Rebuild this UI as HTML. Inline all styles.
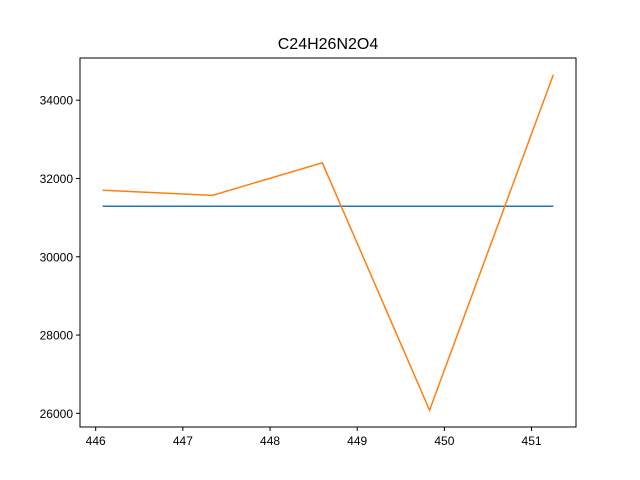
<!DOCTYPE html>
<html><head><meta charset="utf-8"><style>body{margin:0;background:#fff}svg{display:block}</style></head>
<body>
<svg id="chart" width="640" height="480" xmlns="http://www.w3.org/2000/svg" font-family="Liberation Sans, DejaVu Sans, sans-serif">
<rect x="0" y="0" width="640" height="480" fill="#fff"/>
<text x="328" y="49" text-anchor="middle" font-size="16">C24H26N2O4</text>
<g id="plot"></g>
<rect x="80" y="58" width="496" height="369" fill="none" stroke="#000" stroke-width="1"/>
</svg>
<script>
const xs = [446.08, 447.34, 448.60, 449.83, 451.25];
const seriesA = [31290, 31290, 31290, 31290, 31290];
const seriesB = [31700, 31570, 32400, 26080, 34650];
const xTicks = [446, 447, 448, 449, 450, 451];
const yTicks = [26000, 28000, 30000, 32000, 34000];
const X0=445.82, X1=451.51, Y0=25651, Y1=35078;
const L=80,R=576,T=58,B=427;
const sx=v=>L+(v-X0)/(X1-X0)*(R-L);
const sy=v=>B-(v-Y0)/(Y1-Y0)*(B-T);
const ns="http://www.w3.org/2000/svg";
const g=document.getElementById('plot');
function mk(t,a){const e=document.createElementNS(ns,t);for(const k in a)e.setAttribute(k,a[k]);g.appendChild(e);return e;}
xTicks.forEach(v=>{
  const x=sx(v);
  const l=mk('line',{x1:x,x2:x,y1:B,y2:B+4,stroke:'#000'});
  
  
  const t=mk('text',{x:x,y:B+18,'text-anchor':'middle','font-size':'12'});
  t.textContent=v;
  
  
});
yTicks.forEach(v=>{
  const y=sy(v);
  const l=mk('line',{x1:L-4,x2:L,y1:y,y2:y,stroke:'#000'});
  
  
  const t=mk('text',{x:L-7,y:y+4.5,'text-anchor':'end','font-size':'12'});
  t.textContent=v;
  
  
});
function line(vals,color,name){
  const p=mk('polyline',{points:xs.map((x,i)=>sx(x)+','+sy(vals[i])).join(' '),fill:'none',stroke:color,'stroke-width':'1.5'});
  
  
}
line(seriesA,'#1f77b4','series-a-line');
line(seriesB,'#ff7f0e','series-b-line');
</script>
</body></html>
